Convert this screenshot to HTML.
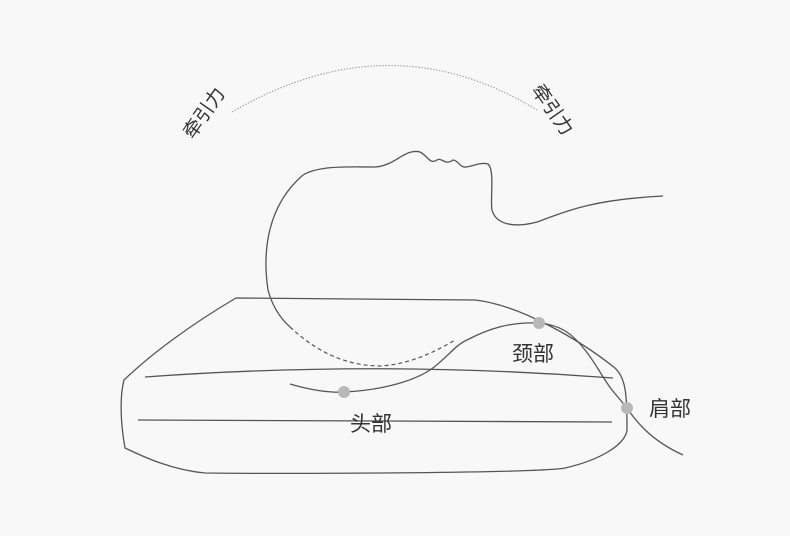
<!DOCTYPE html>
<html><head><meta charset="utf-8"><style>
html,body{margin:0;padding:0;background:#f8f8f8;}
svg{display:block;}
text{font-family:"Liberation Sans","Noto Sans CJK SC",sans-serif;fill:#333;}
</style></head><body>
<svg width="790" height="536" viewBox="0 0 790 536" xmlns="http://www.w3.org/2000/svg">
<rect width="790" height="536" fill="#f8f8f8"/>
<path d="M232,112 Q390,20 537,110" fill="none" stroke="#999" stroke-width="1" stroke-dasharray="1.5,1.5"/>
<text x="0" y="0" font-size="19" transform="translate(193,140) rotate(-55)">牵引力</text>
<text x="0" y="0" font-size="19" transform="translate(531,90) rotate(55)">牵引力</text>
<g fill="none" stroke="#555" stroke-width="1.3">
<path d="M236,298 L475,300 C520,305 580,340 615,368 C626,378 627,395 627,430 C625,445 600,460 565,468 C540,473 300,474 205,473 C170,470 140,455 125,448 C120,420 120,395 124,380 C150,355 190,325 236,298 Z"/>
<path d="M145,377 Q380,360 613,378"/>
<path d="M138,420 L612,422"/>
<path d="M268,290 C262,250 268,205 303,175 C320,165 350,167 375,167 C395,166 405,148 420,152 C428,156 430,165 437,160 C442,157 445,166 453,160 C458,160 460,168 466,167 C474,166 480,162 488,164 C495,170 490,200 492,210 C496,225 515,228 537,222 C560,214 585,200 663,196"/>
<path d="M268,290 C272,305 280,318 290,327"/>
<path d="M290,384 C310,390 330,393 344,392 C385,390 415,380 430,370 C445,360 455,345 467,340 C490,328 510,322 539,323 C560,325 572,333 585,350 C595,362 602,377 612,390 L627,408 C635,420 650,440 683,455"/>
</g>
<path d="M290,327 C320,355 350,366 381,366 C410,364 435,352 455,340" fill="none" stroke="#555" stroke-width="1.2" stroke-dasharray="4,3"/>
<circle cx="344" cy="392" r="6" fill="#b8b8b8"/>
<circle cx="539" cy="323" r="6" fill="#b8b8b8"/>
<circle cx="627" cy="408" r="6" fill="#b8b8b8"/>
<text x="512" y="361" font-size="21">颈部</text>
<text x="350" y="431" font-size="21">头部</text>
<text x="649" y="416" font-size="21">肩部</text>
</svg>
</body></html>
